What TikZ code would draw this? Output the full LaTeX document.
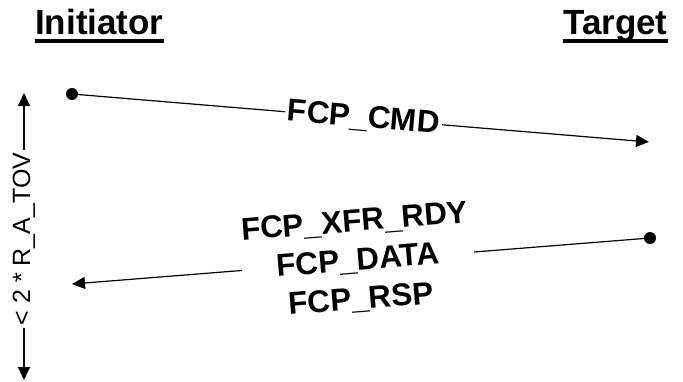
\documentclass[tikz,border=0pt]{standalone}
\usepackage{fontspec}
\setmainfont{Liberation Sans}
\usetikzlibrary{arrows.meta}

\begin{document}
\begin{tikzpicture}[x=1pt, y=1pt,
    msg/.style = {line width=1.2pt, -{Triangle[length=13pt,width=12pt]}},
    dot/.style = {circle, fill=black, inner sep=0pt, minimum size=12pt},
    lbl/.style = {fill=white, inner sep=2.5pt, align=center,
                  font=\bfseries\fontsize{31.5}{39}\selectfont},
    title/.style = {inner sep=0pt, anchor=base west,
                    font=\bfseries\fontsize{35}{42}\selectfont},
    uline/.style = {line width=3.5pt},
    tov/.style = {inner sep=3pt, rotate=90,
                  font=\fontsize{25}{30}\selectfont}]

\useasboundingbox (0,0) rectangle (683,-381);

% titles
\node[title] (ini) at (35,-34.5) {Initiator};
\node[title] (tgt) at (563,-34.5) {Target};
\draw[uline] ([yshift=-6.5pt]ini.base west) -- ([yshift=-6.5pt]ini.base east);
\draw[uline] ([yshift=-6.5pt]tgt.base west) -- ([yshift=-6.5pt]tgt.base east);

% command
\node[dot] (d1) at (72,-94) {};
\coordinate (e1) at (649,-142);
\draw[msg] (d1) -- node[lbl, sloped] (cmd) {FCP\_CMD} (e1);

% response
\node[dot] (d2) at (650,-238) {};
\coordinate (e2) at (72,-284);
\draw[msg] (d2) -- node[lbl, sloped] (rsp) {FCP\_XFR\_RDY\\FCP\_DATA\\FCP\_RSP} (e2);

% timeout
\coordinate (top) at (24,-93);
\coordinate (bot) at (24,-380);
\node[tov] (rat) at (24,-239) {< 2 * R\_A\_TOV};
\draw[msg] (rat) -- (top);
\draw[msg] (rat) -- (bot);

\end{tikzpicture}
\end{document}
